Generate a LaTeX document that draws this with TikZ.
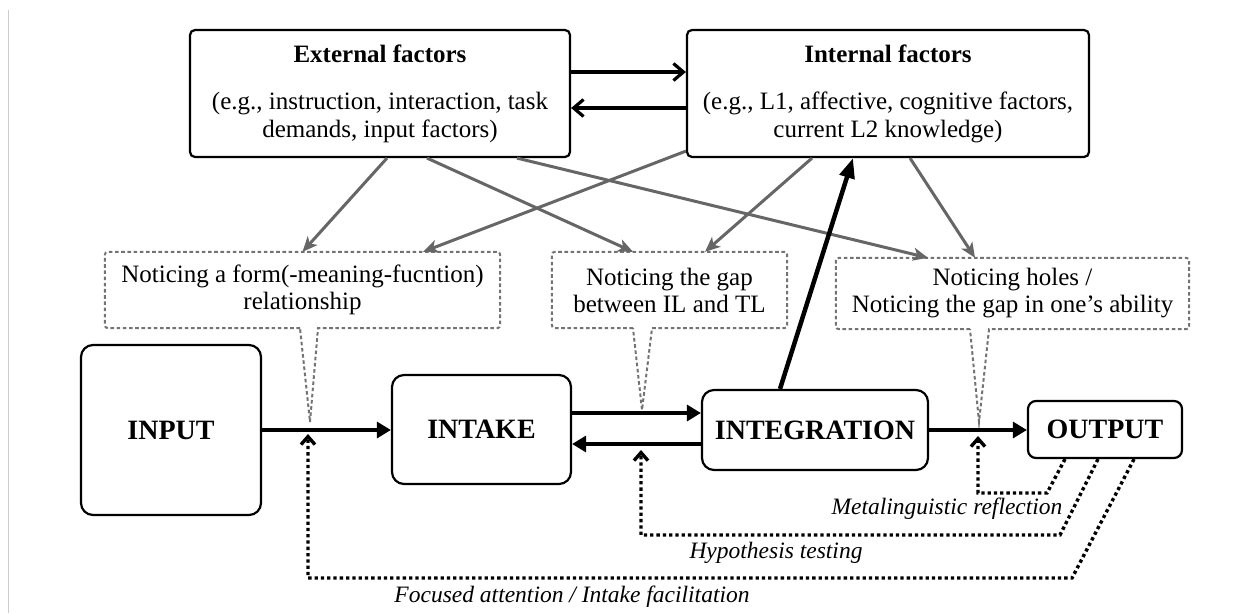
\documentclass[tikz,border=0pt]{standalone}
\usepackage{fontspec}
\setmainfont{Liberation Serif}
\usetikzlibrary{arrows.meta,calc}

\begin{document}
\begin{tikzpicture}[x=1pt,y=-1pt,
  factorbox/.style={draw=black, line width=2.2pt, rounded corners=5pt, align=center,
    font=\fontsize{25}{27.5}\selectfont, inner sep=0pt},
  stagebox/.style={draw=black, line width=2.2pt, rounded corners=12pt,
    font=\bfseries\fontsize{28}{30}\selectfont, inner sep=0pt},
  noticetext/.style={align=center, font=\fontsize{25}{27}\selectfont, inner sep=0pt},
  callout/.style={draw=black!55, line width=2pt, dash pattern=on 3.6pt off 2.6pt},
  influence/.style={draw=black!60, line width=3pt, -{Stealth[length=15pt,width=13pt,inset=4pt]}},
  flow/.style={draw=black, line width=3.2pt, -{Triangle[length=14pt,width=16pt]}},
  exchange/.style={draw=black, line width=3.2pt, -{Straight Barb[length=10pt,width=17pt]}},
  feedback/.style={draw=black, line width=3.4pt, dash pattern=on 3.3pt off 3pt,
    -{Straight Barb[length=8pt,width=14pt]}},
  fblabel/.style={font=\itshape\fontsize{23.5}{25}\selectfont, inner sep=0pt},
]
\useasboundingbox (0,0) rectangle (1233,613);
\draw[black!20, line width=1pt] (8.5,10) -- (8.5,613);

% factor boxes
\node[factorbox, minimum width=380pt, minimum height=127pt] (ext) at (380,93.5)
  {\textbf{External factors}\\[20pt](e.g., instruction, interaction, task\\demands, input factors)};
\node[factorbox, minimum width=402pt, minimum height=127pt] (int) at (888,93.5)
  {\textbf{Internal factors}\\[20pt](e.g., L1, affective, cognitive factors,\\current L2 knowledge)};

% noticing callouts (text)
\node[noticetext, minimum width=395pt, minimum height=76pt] (n1) at (302.5,290)
  {Noticing a form(-meaning-fucntion)\\relationship};
\node[noticetext, minimum width=235pt, minimum height=76pt] (n2) at (669.5,290)
  {Noticing the gap\\between IL and TL};
\node[noticetext, minimum width=353pt, minimum height=71pt] (n3) at (1012.5,293.5)
  {Noticing holes /\\Noticing the gap in one’s ability};

% stage boxes
\node[stagebox, minimum width=180pt, minimum height=170pt] (input) at (171,430) {INPUT};
\node[stagebox, minimum width=179pt, minimum height=109pt] (intake) at (481.5,429.5) {INTAKE};
\node[stagebox, minimum width=226pt, minimum height=80pt] (integ) at (815,430) {INTEGRATION};
\node[stagebox, rounded corners=8pt, minimum width=154pt, minimum height=57pt] (output) at (1105,429.5) {OUTPUT};

% callout tails
\coordinate (t1) at (310,422);
\coordinate (t2) at (642,410);
\coordinate (t3) at (979,422);

\draw[callout] ([xshift=-2.5pt]n1.south) [rounded corners=3pt] -- (n1.south west) -- (n1.north west)
  -- (n1.north east) -- (n1.south east) [sharp corners] -- ([xshift=15.5pt]n1.south) -- (t1) -- cycle;
\draw[callout] ([xshift=-36.5pt]n2.south) [rounded corners=3pt] -- (n2.south west) -- (n2.north west)
  -- (n2.north east) -- (n2.south east) [sharp corners] -- ([xshift=-17.5pt]n2.south) -- (t2) -- cycle;
\draw[callout] ([xshift=-42.5pt]n3.south) [rounded corners=3pt] -- (n3.south west) -- (n3.north west)
  -- (n3.north east) -- (n3.south east) [sharp corners] -- ([xshift=-23.5pt]n3.south) -- (t3) -- cycle;

% influences of the factors on noticing
\draw[influence] ([xshift=7pt]ext.south) -- (n1.north);
\draw[influence] ([xshift=47pt]ext.south) -- ([xshift=-36.5pt]n2.north);
\draw[influence] ([xshift=137pt]ext.south) -- ([xshift=-84.5pt]n3.north);
\draw[influence] ([yshift=7pt]int.south west) -- ([xshift=120.5pt]n1.north);
\draw[influence] ([xshift=-76pt]int.south) -- ([xshift=35.5pt]n2.north);
\draw[influence] ([xshift=22pt]int.south) -- ([xshift=-37.5pt]n3.north);

% exchange between the factors
\draw[exchange] ([yshift=21.5pt]ext.east) -- ([yshift=21.5pt]ext.east -| int.west);
\draw[exchange] ([yshift=-14.5pt]int.west) -- ([yshift=-14.5pt]int.west -| ext.east);

% main flow
\draw[flow] (input.east) -- (input.east -| intake.west);
\draw[flow] ([yshift=16.5pt]intake.east) -- ([yshift=16.5pt]intake.east -| integ.west);
\draw[flow] ([yshift=-14pt]integ.west) -- ([yshift=-14pt]integ.west -| intake.east);
\draw[flow] (integ.east) -- (integ.east -| output.west);
\draw[draw=black, line width=4.5pt, -{Triangle[length=20pt,width=15pt]}]
  ([xshift=-35pt]integ.north) -- ([xshift=-35pt]int.south);

% feedback loops from output
\coordinate (m1) at (1047,493);
\coordinate (m2) at (978,493);
\coordinate (m3) at (978,436);
\draw[feedback] ([xshift=-40pt]output.south) -- (m1) -- (m2) -- (m3);
\coordinate (h1) at (1060,535);
\coordinate (h2) at (641,535);
\coordinate (h3) at (641,450);
\draw[feedback] ([xshift=-7pt]output.south) -- (h1) -- (h2) -- (h3);
\coordinate (f1) at (1072,578);
\coordinate (f2) at (308,578);
\coordinate (f3) at (308,434);
\draw[feedback] ([xshift=29pt]output.south) -- (f1) -- (f2) -- (f3);

\node[fblabel] (ml) at (947,509) {Metalinguistic reflection};
\node[fblabel] (hl) at (776,553) {Hypothesis testing};
\node[fblabel] (fl) at (572,597) {Focused attention / Intake facilitation};
\end{tikzpicture}
\end{document}
